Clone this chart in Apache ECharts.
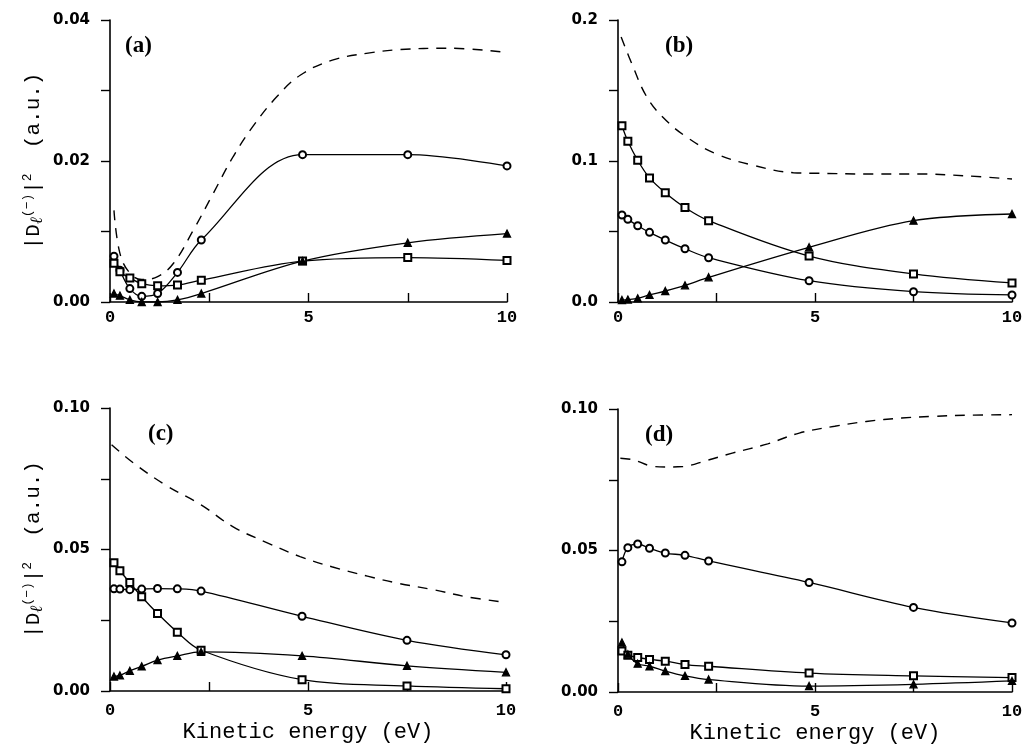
<!DOCTYPE html>
<html>
<head>
<meta charset="utf-8">
<script src="https://cdn.jsdelivr.net/npm/echarts@6/dist/echarts.min.js"></script>
<style>
    html, body { margin: 0; padding: 0; background: #fff; }
    #main { width: 1030px; height: 751px; }
</style>
</head>
<body>
<div id="main"></div>
<script>
// kinetic energies (eV) of the marked points
var energy = [0.1, 0.25, 0.5, 0.8, 1.2, 1.7, 2.3, 4.85, 7.5, 10];
var xTicks = ["0", "5", "10"];
var panelNames = ["(a)", "(b)", "(c)", "(d)"];
var yMax = [0.04, 0.2, 0.1, 0.1];

// (a)
var aCircle = [0.0065, 0.0045, 0.0019, 0.0008, 0.0012, 0.0042, 0.0088, 0.0209, 0.0209, 0.0193];
var aSquare = [0.0055, 0.0043, 0.0034, 0.0026, 0.0023, 0.0024, 0.0031, 0.0058, 0.0063, 0.0059];
var aTriangle = [0.0012, 0.0009, 0.0003, 0.0000, 0.0000, 0.0003, 0.0012, 0.0058, 0.0084, 0.0097];
var aDashE = [0.1, 0.25, 0.5, 0.8, 1.2, 1.6, 2.1, 2.6, 3.1, 3.6, 4.2, 4.8, 5.6, 6.5, 7.3, 8.5, 10];
var aDash = [0.0130, 0.0069, 0.0041, 0.0032, 0.0036, 0.0055, 0.0102, 0.0154, 0.0206, 0.0249, 0.0291, 0.0322, 0.0343, 0.0353, 0.0358, 0.0360, 0.0354];

// (b)
var bCircle = [0.0617, 0.0586, 0.0541, 0.0494, 0.044, 0.0378, 0.0314, 0.0151, 0.0073, 0.005];
var bSquare = [0.125, 0.114, 0.1005, 0.088, 0.0775, 0.067, 0.0577, 0.0326, 0.0199, 0.0135];
var bTriangle = [0.0014, 0.0017, 0.0026, 0.005, 0.0078, 0.0118, 0.0175, 0.0388, 0.0577, 0.0624];
var bDashE = [0.08, 0.38, 0.72, 1.14, 1.74, 2.5, 3.43, 4.45, 5.04, 6.3, 7.6, 8.86, 10];
var bDash = [0.188, 0.167, 0.146, 0.131, 0.117, 0.105, 0.097, 0.0917, 0.0913, 0.0908, 0.0908, 0.0894, 0.0872];

// (c)
var cCircle = [0.0361, 0.0360, 0.0358, 0.0360, 0.0362, 0.0361, 0.0353, 0.0264, 0.0179, 0.0128];
var cSquare = [0.0453, 0.0425, 0.0383, 0.0333, 0.0274, 0.0208, 0.0144, 0.0040, 0.0018, 0.0008];
var cTriangle = [0.0051, 0.0055, 0.0071, 0.0087, 0.0109, 0.0124, 0.0138, 0.0124, 0.0089, 0.0066];
var cDashE = [0.04, 0.6, 1.4, 2.3, 3.1, 4.0, 4.8, 5.6, 6.5, 7.3, 8.2, 9.0, 10];
var cDash = [0.087, 0.0805, 0.0728, 0.0658, 0.0581, 0.0522, 0.0475, 0.0439, 0.0406, 0.038, 0.0357, 0.0333, 0.0313];

// (d)
var dCircle = [0.046, 0.051, 0.0523, 0.0508, 0.0491, 0.0483, 0.0463, 0.0387, 0.0299, 0.0244];
var dSquare = [0.0145, 0.013, 0.0122, 0.0115, 0.0109, 0.0097, 0.0091, 0.0067, 0.0057, 0.0051];
var dTriangle = [0.0175, 0.0133, 0.010, 0.0091, 0.0074, 0.0057, 0.0044, 0.0021, 0.0027, 0.0039];
var dDashE = [0.06, 0.4, 0.8, 1.2, 1.65, 2.25, 2.9, 3.8, 4.6, 5.5, 6.3, 7.2, 8.0, 8.9, 10];
var dDash = [0.0826, 0.082, 0.080, 0.0795, 0.0797, 0.0818, 0.0844, 0.0877, 0.0915, 0.0939, 0.0956, 0.0968, 0.0974, 0.0978, 0.098];

var panels = [
    { circle: aCircle, square: aSquare, triangle: aTriangle, dashE: aDashE, dash: aDash },
    { circle: bCircle, square: bSquare, triangle: bTriangle, dashE: bDashE, dash: bDash },
    { circle: cCircle, square: cSquare, triangle: cTriangle, dashE: cDashE, dash: cDash },
    { circle: dCircle, square: dSquare, triangle: dTriangle, dashE: dDashE, dash: dDash }
];

var chart = echarts.init(document.getElementById("main"));

var grids = [
    { left: 110, top: 20, width: 397, height: 282 },
    { left: 618, top: 20, width: 394, height: 282 },
    { left: 110, top: 408, width: 396, height: 283 },
    { left: 618, top: 409, width: 394, height: 283 }
];

function pairs(xs, ys) {
    return xs.map(function (x, i) { return [x, ys[i]]; });
}

var xAxes = [], yAxes = [], series = [], titles = [];

grids.forEach(function (g, i) {
    var bottomRow = i >= 2;
    var leftCol = i % 2 === 0;
    xAxes.push({
        type: "value",
        gridIndex: i,
        min: 0,
        max: 10,
        interval: 2.5,
        name: bottomRow ? "Kinetic energy (eV)" : "",
        nameLocation: "middle",
        nameGap: 30,
        nameTextStyle: { fontFamily: "Liberation Mono", fontSize: 22, color: "#000" },
        axisLine: { lineStyle: { color: "#000", width: 1.6 } },
        axisTick: { inside: true, length: 9, lineStyle: { color: "#000", width: 1.4 } },
        splitLine: { show: false },
        axisLabel: {
            color: "#000",
            fontFamily: "Liberation Mono",
            fontWeight: "bold",
            fontSize: 17,
            margin: bottomRow ? 11 : 7,
            formatter: function (v) {
                var k = xTicks.indexOf(String(v));
                return k >= 0 ? xTicks[k] : "";
            }
        }
    });
    var step = yMax[i] / 4;
    var digits = i === 1 ? 1 : 2;
    yAxes.push({
        type: "value",
        gridIndex: i,
        min: 0,
        max: yMax[i],
        interval: step,
        name: leftCol ? "{t||D}{s|ℓ}{p|(−)}{t||}{p|2}{t|  (a.u.)}" : "",
        nameLocation: "middle",
        nameGap: 64,
        nameRotate: 90,
        nameTextStyle: {
            color: "#000",
            fontFamily: "Liberation Mono",
            fontSize: 21,
            rich: {
                t: { fontFamily: "Liberation Mono", fontSize: 21, color: "#000" },
                p: { fontFamily: "Liberation Mono", fontSize: 13, color: "#000", padding: [0, 0, 11, 0] },
                s: { fontFamily: "Liberation Serif", fontStyle: "italic", fontSize: 17, color: "#000", padding: [8, 0, 0, 0] }
            }
        },
        axisLine: { show: true, lineStyle: { color: "#000", width: 1.6 } },
        axisTick: { inside: false, length: 9, lineStyle: { color: "#000", width: 1.4 } },
        splitLine: { show: false },
        axisLabel: {
            color: "#000",
            fontFamily: "DejaVu Sans",
            fontWeight: "bold",
            fontSize: 15,
            margin: 20,
            formatter: function (v) {
                var n = Math.round(v / step);
                return n % 2 === 0 ? v.toFixed(digits) : "";
            }
        }
    });

    var p = panels[i];
    var marks = [
        { data: p.circle, symbol: "emptyCircle" },
        { data: p.square, symbol: "emptyRect" },
        { data: p.triangle, symbol: "triangle" }
    ];
    marks.forEach(function (m) {
        series.push({
            type: "line",
            xAxisIndex: i,
            yAxisIndex: i,
            data: pairs(energy, m.data),
            smooth: 0.35,
            symbol: m.symbol,
            symbolSize: 7,
            lineStyle: { color: "#000", width: 1.3 },
            itemStyle: { color: "#000", borderColor: "#000", borderWidth: 1.3 },
            z: 3
        });
    });
    series.push({
        type: "line",
        xAxisIndex: i,
        yAxisIndex: i,
        data: pairs(p.dashE, p.dash),
        smooth: 0.4,
        showSymbol: false,
        symbol: "none",
        lineStyle: { color: "#000", width: 1.4, type: [10, 8] },
        z: 2
    });

    titles.push({
        text: panelNames[i],
        left: [120, 660, 143, 640][i],
        top: [30, 30, 418, 419][i],
        textStyle: { fontFamily: "Liberation Serif", fontWeight: "bold", fontSize: 23, color: "#000" }
    });
});

chart.setOption({
    backgroundColor: "#fff",
    animation: false,
    title: titles,
    grid: grids,
    xAxis: xAxes,
    yAxis: yAxes,
    series: series
});
</script>
</body>
</html>
